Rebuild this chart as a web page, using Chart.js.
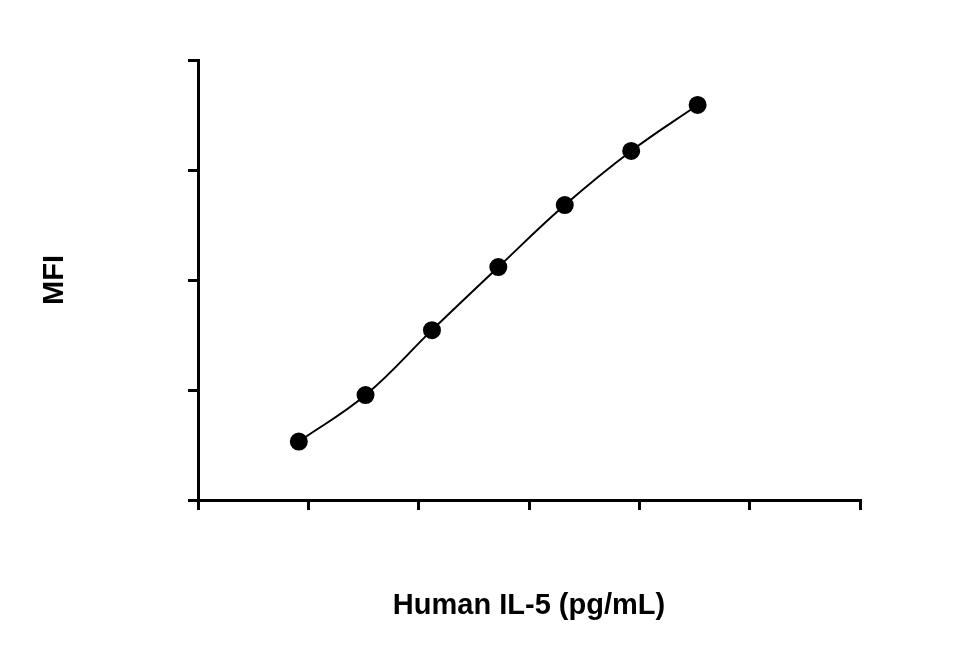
<!DOCTYPE html>
<html>
<head>
<meta charset="utf-8">
<script src="https://cdn.jsdelivr.net/npm/chart.js@4"></script>
<style>
  body { margin: 0; background: #fff; }
  #wrap { width: 963px; height: 660px; }
</style>
</head>
<body>
<div id="wrap"><canvas id="myCanvas"></canvas></div>
<script>
// dilution series
const concentrations = [0.82, 3.3, 13.2, 52.7, 211, 844, 3375];
const mfiValues = [34, 90, 350, 1310, 4800, 14900, 39000];
const xTicks = [0.1, 1, 10, 100, 1000, 10000, 100000];
const yTicks = [10, 100, 1000, 10000, 100000];
const xTitle = 'Human IL-5 (pg/mL)';
const yTitle = 'MFI';

const FAM = 'Liberation Sans, Arial, sans-serif';

// draw "10" with a raised exponent; align = 'center' or 'right'
function drawPow(c, v, x, y, align) {
    const e = String(Math.round(Math.log10(v)));
    c.font = 'bold 27px ' + FAM;
    const w1 = c.measureText('10').width;
    c.font = 'bold 18px ' + FAM;
    const w2 = c.measureText(e).width;
    const total = w1 + 1 + w2;
    let left = align === 'right' ? x - total : x - total / 2;
    c.fillStyle = '#000';
    c.textAlign = 'left';
    c.textBaseline = 'alphabetic';
    c.font = 'bold 27px ' + FAM;
    c.fillText('10', left, y);
    c.font = 'bold 18px ' + FAM;
    c.fillText(e, left + w1 + 1, y - 12);
}

const labelPlugin = {
    id: 'labels',
    afterDraw(chart) {
        const c = chart.ctx;
        const xs = chart.scales.x, ys = chart.scales.y;
        c.save();
        xTicks.forEach(v => drawPow(c, xs.getPixelForValue(v), xs.bottom === 0 ? 0 : 0, 0, 'center'));
        c.restore();
    }
};

function axis(min, max, ticks, fitKey, fitSize) {
    return {
        type: 'logarithmic',
        min: min,
        max: max,
        afterBuildTicks: scale => { scale.ticks = ticks.map(v => ({ value: v })); },
        afterFit: scale => { scale[fitKey] = fitSize; },
        ticks: { display: false },
        grid: { drawOnChartArea: false, color: '#000', lineWidth: 3, tickLength: 10 },
        border: { color: '#000', width: 3 }
    };
}

const ctx = document.getElementById('myCanvas').getContext('2d');
new Chart(ctx, {
    type: 'scatter',
    data: {
        datasets: [{
            data: concentrations.map((c, i) => ({ x: c, y: mfiValues[i] })),
            showLine: true,
            tension: 0.4,
            borderColor: '#000',
            borderWidth: 2,
            backgroundColor: '#000',
            pointRadius: 8,
            pointHoverRadius: 8
        }]
    },
    options: {
        responsive: true,
        maintainAspectRatio: false,
        animation: false,
        layout: { padding: { left: 0, right: 103, top: 60, bottom: 0 } },
        plugins: { legend: { display: false }, tooltip: { enabled: false } },
        scales: {
            x: axis(0.1, 100000, xTicks, 'height', 160),
            y: axis(10, 100000, yTicks, 'width', 198)
        }
    },
    plugins: [{
        id: 'labels',
        afterDraw(chart) {
            const c = chart.ctx;
            const xs = chart.scales.x, ys = chart.scales.y;
            const area = chart.chartArea;
            c.save();
            xTicks.forEach(v => drawPow(c, xs.getPixelForValue(v), area.bottom + 56, 'center'));
            yTicks.forEach(v => drawPow(c, 178, ys.getPixelForValue(v) + 13, 'right'));
            c.fillStyle = '#000';
            c.textAlign = 'center';
            c.textBaseline = 'middle';
            c.font = 'bold 29px ' + FAM;
            c.fillText(xTitle, (area.left + area.right) / 2, 606);
            c.translate(55, (area.top + area.bottom) / 2);
            c.rotate(-Math.PI / 2);
            c.fillText(yTitle, 0, 0);
            c.restore();
        }
    }]
});
</script>
</body>
</html>
